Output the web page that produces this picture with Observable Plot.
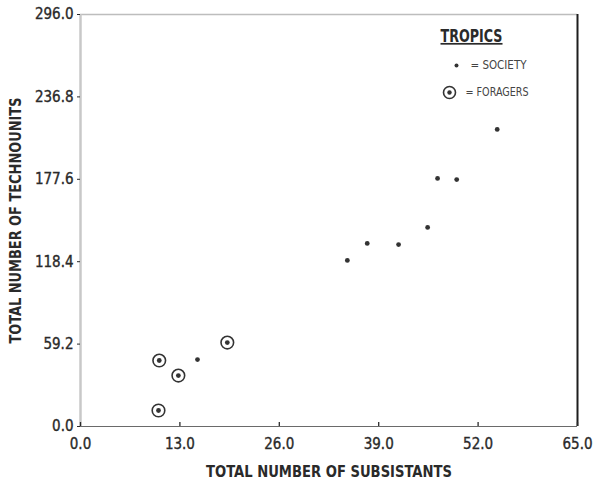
<!DOCTYPE html>
<html>
<head>
<meta charset="utf-8">
<script src="https://cdn.jsdelivr.net/npm/d3@7"></script>
<script src="https://cdn.jsdelivr.net/npm/@observablehq/plot@0.6"></script>
<style>
  html, body { margin: 0; padding: 0; background: #fff; }
</style>
</head>
<body>
<div id="chart"></div>
<script>
// Tick values
const xTicks = [0, 13, 26, 39, 52, 65];
const yTicks = [0, 59.2, 118.4, 177.6, 236.8, 296.0];

// Society points (total subsistants, total technounits)
const societyX = [15.3, 34.9, 37.5, 41.6, 45.4, 46.7, 49.2, 54.5];
const societyY = [48.1, 119.3, 131.5, 130.7, 143.0, 178.2, 177.4, 213.4];

// Forager points
const foragerX = [10.3, 12.8, 10.2, 19.2];
const foragerY = [47.4, 36.6, 11.5, 60.3];

// Text
const xTitle = "TOTAL NUMBER OF SUBSISTANTS";
const yTitle = "TOTAL NUMBER OF TECHNOUNITS";
const legendTitle = "TROPICS";
const legendLabels = ["= SOCIETY", "= FORAGERS"];

const society = societyX.map((x, i) => ({x, y: societyY[i]}));
const foragers = foragerX.map((x, i) => ({x, y: foragerY[i]}));

const ink = "#2a2a2a";
const font = "'DejaVu Sans Condensed', 'Liberation Sans Narrow', 'Roboto', sans-serif";

const chart = Plot.plot({
  width: 596,
  height: 493,
  marginLeft: 80,
  marginRight: 19,
  marginTop: 14,
  marginBottom: 67,
  style: {fontFamily: font, fontSize: "15px", color: ink, background: "#fff"},
  x: {domain: [0, 65]},
  y: {domain: [0, 296]},
  marks: [
    // frame edges (scanned look)
    Plot.ruleY([296], {stroke: "#bdbdbd", strokeWidth: 1.5}),
    Plot.ruleX([0], {stroke: "#c8c8c8", strokeWidth: 2.5}),
    Plot.ruleY([0], {stroke: "#6a6a6a", strokeWidth: 1.2}),
    Plot.ruleX([65], {stroke: "#1e1e1e", strokeWidth: 2}),
    // y axis: ticks pointing out, labels
    Plot.axisY({ticks: yTicks, tickSize: 3, tickPadding: 4, tickFormat: d => d.toFixed(1), label: null, stroke: ink, fill: ink}),
    // x axis: ticks pointing inward (up), labels below
    Plot.axisX({ticks: xTicks, tickSize: 4, dy: -4, label: null, stroke: ink, strokeWidth: 1.3, fill: "none"}),
    Plot.axisX({ticks: xTicks, tickSize: 0, tickPadding: 12, tickFormat: d => d.toFixed(1), label: null, fill: ink}),
    // axis titles
    Plot.text([xTitle], {text: d => d, frameAnchor: "bottom", dy: 50, fontSize: 16, fill: ink}),
    Plot.text([yTitle], {text: d => d, frameAnchor: "left", dx: -65, rotate: -90, textAnchor: "middle", lineAnchor: "middle", fontSize: 16, fill: ink}),
    // data
    Plot.dot(society, {x: "x", y: "y", r: 2.4, fill: "#333", stroke: "none"}),
    Plot.dot(foragers, {x: "x", y: "y", r: 6.3, fill: "none", stroke: "#333", strokeWidth: 1.6}),
    Plot.dot(foragers, {x: "x", y: "y", r: 2.4, fill: "#333", stroke: "none"}),
    // legend
    Plot.text([legendTitle], {text: d => d, frameAnchor: "top-right", dx: -106, dy: 22, textAnchor: "middle", lineAnchor: "middle", fontSize: 17, fill: ink}),
    Plot.dot([0], {x: null, y: null, frameAnchor: "top-right", dx: -121, dy: 51, r: 2, fill: "#333", stroke: "none"}),
    Plot.text([legendLabels[0]], {text: d => d, frameAnchor: "top-right", dx: -107, dy: 51, textAnchor: "start", lineAnchor: "middle", fontSize: 12, fill: "#444"}),
    Plot.dot([0], {x: null, y: null, frameAnchor: "top-right", dx: -128, dy: 78, r: 6, fill: "none", stroke: "#333", strokeWidth: 1.6}),
    Plot.dot([0], {x: null, y: null, frameAnchor: "top-right", dx: -128, dy: 78, r: 2.2, fill: "#333", stroke: "none"}),
    Plot.text([legendLabels[1]], {text: d => d, frameAnchor: "top-right", dx: -112, dy: 78, textAnchor: "start", lineAnchor: "middle", fontSize: 12, fill: "#444"})
  ]
});

// Condensed, drafting-style lettering: fit texts to the widths seen in the reference
const fits = new Map([
  [xTitle, 246],
  [yTitle, 246],
  [legendTitle, 62],
  [legendLabels[0], 56],
  [legendLabels[1], 63]
]);
d3.select(chart).selectAll("text").each(function() {
  const t = this.textContent;
  const sel = d3.select(this);
  if (fits.has(t)) {
    sel.attr("textLength", fits.get(t)).attr("lengthAdjust", "spacingAndGlyphs");
  }
  if (t === legendTitle) {
    sel.style("text-decoration", "underline").style("font-weight", "bold");
  }
  if (t === xTitle || t === yTitle) {
    sel.style("font-weight", "bold");
  }
});
// slightly heavier tick lettering, like the pen-plotted original
d3.select(chart).selectAll("g[aria-label='y-axis tick label'], g[aria-label='x-axis tick label']")
  .attr("stroke", ink).attr("stroke-width", 0.35);

document.getElementById("chart").appendChild(chart);
</script>
</body>
</html>
